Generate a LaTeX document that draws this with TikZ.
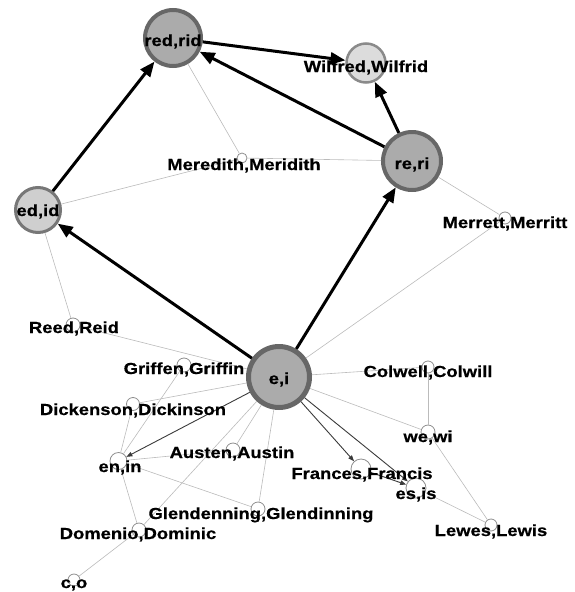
\documentclass[tikz,border=0pt]{standalone}
\usepackage{fontspec}
\setmainfont{Liberation Sans}[FakeStretch=1.15,FakeBold=0.6]
\usetikzlibrary{arrows.meta}
\definecolor{bigfill}{HTML}{ABABAB}
\definecolor{bigdraw}{HTML}{676767}
\definecolor{litefill}{HTML}{DCDCDC}
\definecolor{litedraw}{HTML}{8A8A8A}
\definecolor{midfill}{HTML}{CFCFCF}
\definecolor{middraw}{HTML}{777777}
\definecolor{thinline}{HTML}{BBBBBB}
\definecolor{darkline}{HTML}{3A3A3A}
\definecolor{smalldraw}{HTML}{8E8E8E}
\tikzset{
  bignode/.style={circle, fill=bigfill, draw=bigdraw, line width=4pt, inner sep=0pt},
  smallnode/.style={circle, fill=white, draw=smalldraw, line width=0.8pt, inner sep=0pt},
  lbl/.style={anchor=base, inner sep=0pt, font=\bfseries\fontsize{16}{16}\selectfont, text=black},
  thickarrow/.style={line width=3pt, -{Triangle[length=15pt,width=12pt]}},
  darkarrow/.style={line width=0.9pt, draw=darkline, -{Triangle[length=6pt,width=4.5pt]}, color=darkline},
  thinedge/.style={line width=0.6pt, draw=thinline}
}
\begin{document}
\begin{tikzpicture}[x=1pt,y=-1pt]
\useasboundingbox (0,0) rectangle (575,592);
% big nodes
\node[bignode, minimum size=56pt] (red) at (173,38) {};
\node[circle, inner sep=0pt, fill=litefill, draw=litedraw, line width=2.5pt, minimum size=39pt] (wil) at (366,63) {};
\node[bignode, minimum size=58pt] (re) at (412,161) {};
\node[circle, inner sep=0pt, fill=midfill, draw=middraw, line width=3pt, minimum size=45pt] (ed) at (38,210) {};
\node[bignode, line width=5pt, minimum size=61pt] (ei) at (279,377) {};
% small nodes
\node[smallnode, minimum size=10pt] (mer) at (242,158) {};
\node[smallnode, minimum size=12pt] (mett) at (505,218) {};
\node[smallnode, minimum size=14pt] (reed) at (73,325) {};
\node[smallnode, minimum size=14pt] (grif) at (184,365) {};
\node[smallnode, minimum size=13pt] (dick) at (133,404) {};
\node[smallnode, minimum size=17pt] (en) at (118.5,461) {};
\node[smallnode, minimum size=14pt] (aus) at (233,450) {};
\node[smallnode, minimum size=14pt] (glen) at (258,509) {};
\node[smallnode, minimum size=14pt] (dom) at (139,530) {};
\node[smallnode, minimum size=12pt] (co) at (74,580) {};
\node[smallnode, minimum size=12pt] (col) at (428,367) {};
\node[smallnode, minimum size=14pt] (we) at (428,432) {};
\node[smallnode, minimum size=20pt] (fra) at (361,469) {};
\node[smallnode, minimum size=20pt] (es) at (416,488) {};
\node[smallnode, minimum size=12pt] (lew) at (491,525) {};
% thin gray edges
\draw[thinedge] (red) -- (mer);
\draw[thinedge] (ed) -- (mer);
\draw[thinedge] (mer) -- (re);
\draw[thinedge] (re) -- (mett);
\draw[thinedge] (mett) -- (ei);
\draw[thinedge] (ed) -- (reed);
\draw[thinedge] (reed) -- (ei);
\draw[thinedge] (grif) -- (en);
\draw[thinedge] (dick) -- (ei);
\draw[thinedge] (dick) -- (en);
\draw[thinedge] (aus) -- (en);
\draw[thinedge] (aus) -- (ei);
\draw[thinedge] (en) -- (glen);
\draw[thinedge] (en) -- (dom);
\draw[thinedge] (dom) -- (ei);
\draw[thinedge] (dom) -- (co);
\draw[thinedge] (glen) -- (ei);
\draw[thinedge] (ei) -- (col);
\draw[thinedge] (ei) -- (we);
\draw[thinedge] (col) -- (we);
\draw[thinedge] (we) -- (lew);
\draw[thinedge] (es) -- (lew);
% dark thin arrows
\draw[darkarrow] (ei) -- (en);
\draw[darkarrow] (ei) -- (fra);
\draw[darkarrow] (ei) -- (es);
\draw[darkarrow] (fra) -- (es);
% thick arrows
\draw[thickarrow] (ed) -- (red);
\draw[thickarrow] (ei) -- (ed);
\draw[thickarrow] (ei) -- (re);
\draw[thickarrow] (re) -- (red);
\draw[thickarrow] (red) -- (wil);
\draw[thickarrow] (re) -- (wil);
% labels
\node[lbl] (l-red) at (173,46) {red,rid};
\node[lbl] (l-wil) at (366,72) {Wilfred,Wilfrid};
\node[lbl] (l-re) at (412,169) {re,ri};
\node[lbl] (l-ed) at (38,216) {ed,id};
\node[lbl] (l-ei) at (279,384) {e,i};
\node[lbl] (l-mer) at (244,170) {Meredith,Meridith};
\node[lbl] (l-mett) at (505,228) {Merrett,Merritt};
\node[lbl] (l-reed) at (74,333) {Reed,Reid};
\node[lbl] (l-grif) at (184,374) {Griffen,Griffin};
\node[lbl] (l-dick) at (133,415) {Dickenson,Dickinson};
\node[lbl] (l-en) at (120,472) {en,in};
\node[lbl] (l-aus) at (232,458) {Austen,Austin};
\node[lbl] (l-glen) at (261,519) {Glendenning,Glendinning};
\node[lbl] (l-dom) at (138,539) {Domenio,Dominic};
\node[lbl] (l-co) at (74,588) {c,o};
\node[lbl] (l-col) at (428,377) {Colwell,Colwill};
\node[lbl] (l-we) at (428,442) {we,wi};
\node[lbl] (l-fra) at (362,479) {Frances,Francis};
\node[lbl] (l-es) at (416,499) {es,is};
\node[lbl] (l-lew) at (491,536) {Lewes,Lewis};
\end{tikzpicture}
\end{document}
